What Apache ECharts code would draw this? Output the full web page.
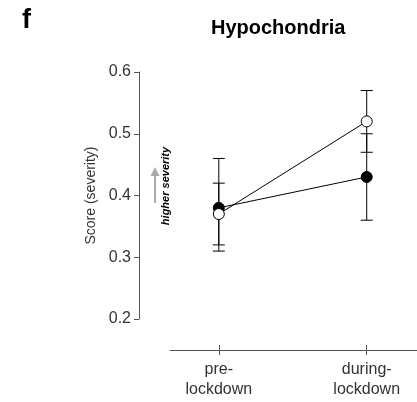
<!DOCTYPE html>
<html>
<head>
<meta charset="utf-8">
<script src="https://cdn.jsdelivr.net/npm/echarts@6/dist/echarts.min.js"></script>
<style>html,body{margin:0;padding:0;background:#fff}#c{width:417px;height:402px}</style>
</head>
<body>
<div id="c"></div>
<script>
// ---- data ----
var categories = ['pre-\nlockdown', 'during-\nlockdown'];
var yTicks = [0.2, 0.3, 0.4, 0.5, 0.6];
// filled circles
var filledMean = [0.38, 0.43];
var filledLow  = [0.31, 0.36];
var filledHigh = [0.46, 0.50];
// open circles
var openMean = [0.37, 0.52];
var openLow  = [0.32, 0.47];
var openHigh = [0.42, 0.57];

var FONT = '"Liberation Sans", Arial, Helvetica, sans-serif';
var catIdx = categories.map(function (_, i) { return i; });

function pts(vals) { return vals.map(function (v, i) { return [i, v]; }); }
function errs(lo, hi) { return lo.map(function (l, i) { return [i, l, hi[i]]; }); }

function renderErr(params, api) {
  var x = api.value(0);
  var lo = api.coord([x, api.value(1)]);
  var hi = api.coord([x, api.value(2)]);
  var w = 6;
  var st = { stroke: '#000', lineWidth: 1 };
  return {
    type: 'group',
    children: [
      { type: 'line', shape: { x1: lo[0], y1: lo[1], x2: hi[0], y2: hi[1] }, style: st },
      { type: 'line', shape: { x1: lo[0] - w, y1: lo[1], x2: lo[0] + w, y2: lo[1] }, style: st },
      { type: 'line', shape: { x1: hi[0] - w, y1: hi[1], x2: hi[0] + w, y2: hi[1] }, style: st }
    ]
  };
}

var chart = echarts.init(document.getElementById('c'), null, { renderer: 'canvas' });
chart.setOption({
  animation: false,
  backgroundColor: '#fff',
  textStyle: { fontFamily: FONT },
  title: {
    text: 'Hypochondria',
    left: 211, top: 18, padding: 0,
    textStyle: { fontFamily: FONT, fontSize: 20, fontWeight: 'bold', color: '#000' }
  },
  grid: { left: 170, right: -2, top: 72, bottom: 83 },
  xAxis: [{
    type: 'value', min: -0.33, max: 1.34, position: 'bottom', offset: 31,
    splitLine: { show: false },
    axisLine: { show: true, onZero: false, lineStyle: { color: '#555', width: 1 } },
    axisTick: { show: true, inside: false, length: 5, customValues: catIdx, lineStyle: { color: '#555' } },
    axisLabel: {
      customValues: catIdx, margin: 10, color: '#333', fontSize: 16, lineHeight: 20, fontFamily: FONT,
      formatter: function (v) { return categories[Math.round(v)] || ''; }
    }
  }, {
    type: 'value', min: -0.33, max: 1.34, position: 'bottom', offset: 31,
    splitLine: { show: false },
    axisLine: { show: false, onZero: false },
    axisTick: { show: true, inside: true, length: 5, customValues: catIdx, lineStyle: { color: '#555' } },
    axisLabel: { show: false }
  }],
  yAxis: {
    type: 'value', min: 0.2, max: 0.6, interval: 0.1, offset: 31,
    splitLine: { show: false },
    axisLine: { show: true, onZero: false, lineStyle: { color: '#555', width: 1 } },
    axisTick: { show: true, length: 5, lineStyle: { color: '#555' } },
    axisLabel: {
      color: '#333', fontSize: 16, margin: 8, fontFamily: FONT,
      formatter: function (v) { return v.toFixed(1); }
    },
    name: 'Score (severity)', nameLocation: 'middle', nameRotate: 90, nameGap: 39,
    nameTextStyle: { color: '#333', fontSize: 14, fontFamily: FONT }
  },
  graphic: [
    { type: 'text', left: 22, top: 7, style: { text: 'f', font: 'bold 27px ' + FONT, fill: '#000' } },
    { type: 'text', x: 166, y: 186, rotation: Math.PI / 2,
      style: { text: 'higher severity', font: 'italic bold 11px ' + FONT, fill: '#000', align: 'center', verticalAlign: 'middle' } },
    { type: 'line', shape: { x1: 155, y1: 203, x2: 155, y2: 174 }, style: { stroke: '#aaa', lineWidth: 2 } },
    { type: 'polygon', shape: { points: [[150.5, 176], [159.5, 176], [155, 167]] }, style: { fill: '#aaa' } }
  ],
  series: [
    { type: 'custom', renderItem: renderErr, data: errs(filledLow, filledHigh), encode: { x: 0, y: [1, 2] }, z: 1, silent: true },
    { type: 'custom', renderItem: renderErr, data: errs(openLow, openHigh), encode: { x: 0, y: [1, 2] }, z: 1, silent: true },
    {
      type: 'line', data: pts(filledMean), symbol: 'circle', symbolSize: 11, z: 3,
      lineStyle: { color: '#000', width: 1 },
      itemStyle: { color: '#000', borderColor: '#000', borderWidth: 1 }
    },
    {
      type: 'line', data: pts(openMean), symbol: 'circle', symbolSize: 11, z: 4,
      lineStyle: { color: '#000', width: 1 },
      itemStyle: { color: '#fff', borderColor: '#000', borderWidth: 1 }
    }
  ]
});
</script>
</body>
</html>
